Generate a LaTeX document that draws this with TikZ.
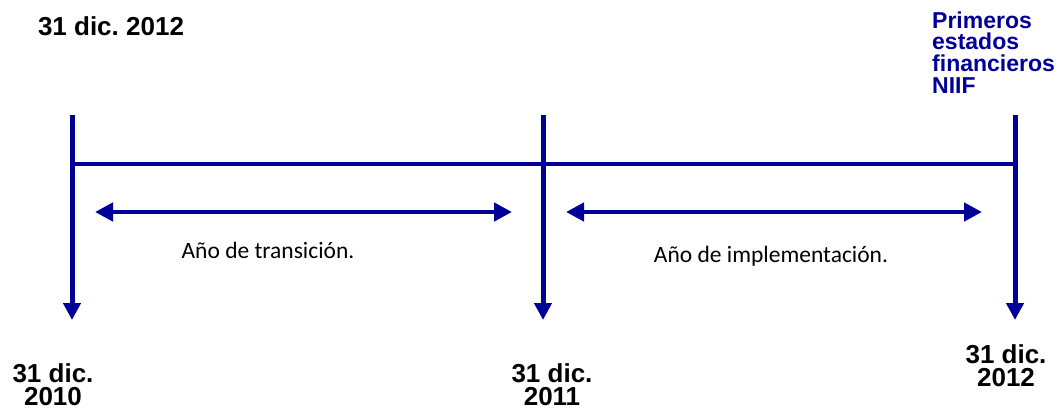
\documentclass[tikz,border=0pt]{standalone}
\usepackage{fontspec}
\setmainfont{Liberation Sans}
\newfontfamily\bodyfont{Carlito}
\usetikzlibrary{arrows.meta}
\definecolor{navy}{RGB}{0,0,153}
\frenchspacing
\tikzset{
  datelabel/.style={font=\bfseries\fontsize{26}{23}\selectfont, align=center, inner sep=0pt, anchor=base},
  notelabel/.style={font=\bodyfont\fontsize{23.5}{28}\selectfont, inner sep=0pt, anchor=base},
  niiflabel/.style={font=\bfseries\fontsize{23}{21.7}\selectfont, text=navy, align=left, inner sep=0pt, anchor=base west},
  tick/.style={draw=navy, line width=5pt, -{Triangle[width=17pt,length=17pt]}},
  axis/.style={draw=navy, line width=4.3pt},
  span/.style={draw=navy, line width=4.5pt, {Triangle[width=18pt,length=18pt]}-{Triangle[width=18pt,length=18pt]}}
}
\begin{document}
\begin{tikzpicture}[x=1pt, y=-1pt]
\useasboundingbox (0,0) rectangle (1060,408);

% year marks on the time line
\coordinate (t0top) at (72,115);
\coordinate (t0bot) at (72,320);
\coordinate (t1top) at (543,115);
\coordinate (t1bot) at (543,320);
\coordinate (t2top) at (1015,115);
\coordinate (t2bot) at (1015,320);
\coordinate (ax0) at (70,164);
\coordinate (ax1) at (1017,164);

\draw[axis] (ax0) -- (ax1);
\draw[tick] (t0top) -- (t0bot);
\draw[tick] (t1top) -- (t1bot);
\draw[tick] (t2top) -- (t2bot);

% periods between the marks
\coordinate (p1a) at (95,212);
\coordinate (p1b) at (512,212);
\coordinate (p2a) at (566,212);
\coordinate (p2b) at (982,212);
\draw[span] (p1a) -- (p1b);
\draw[span] (p2a) -- (p2b);

\node[notelabel] (transicion) at (268,258) {Año de transición.};
\node[notelabel] (implementacion) at (771,262) {Año de implementación.};

% dates (multi-line nodes sit on the baseline of their last line)
\node[datelabel] (fecha0) at (111,35) {31 dic. 2012};
\node[datelabel] (fecha1) at (53,405) {31 dic.\\2010};
\node[datelabel] (fecha2) at (552,405) {31 dic.\\2011};
\node[datelabel] (fecha3) at (1006,386) {31 dic.\\2012};

\node[niiflabel] (niif) at (932,93.3) {Primeros\\estados\\financieros\\NIIF};
\end{tikzpicture}
\end{document}
